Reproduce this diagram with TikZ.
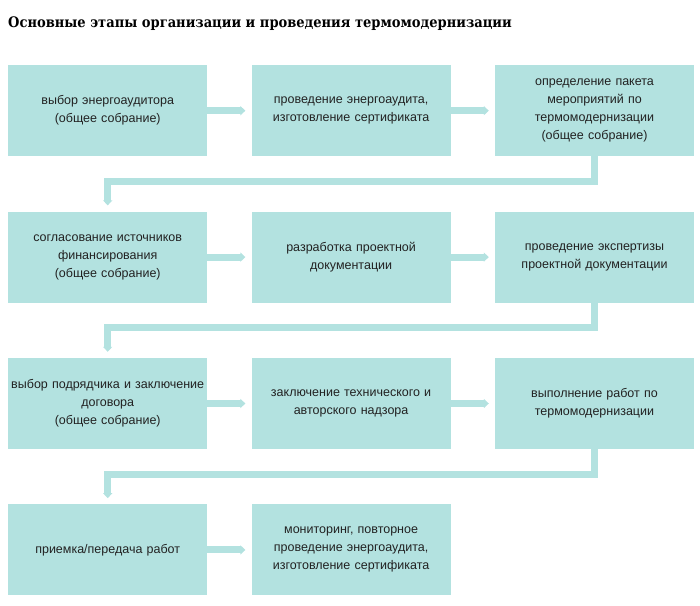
\documentclass[tikz,border=0pt]{standalone}
\usepackage{fontspec}
\setmainfont{Liberation Sans}
\newfontfamily\titlefont{DejaVu Serif Condensed}
\usepackage{tikz}
\usetikzlibrary{positioning,arrows.meta}
\definecolor{stepfill}{RGB}{179,226,224}
\definecolor{steptext}{RGB}{34,34,34}

\begin{document}
\begin{tikzpicture}[x=1pt, y=1pt, node distance=55pt and 44pt]
% Define styles for boxes and arrows
\tikzstyle{stepbox} = [rectangle, fill=stepfill, text=steptext, text width=198pt, align=center, minimum width=199pt, minimum height=91pt, inner sep=0.5pt, font=\fontsize{12.5}{18}\selectfont]
\tikzstyle{line} = [draw=stepfill, line width=7pt, -{Triangle[length=5pt,width=9pt]}]

\useasboundingbox (0,0) rectangle (700,-605);

% Title
\node [anchor=base west, inner sep=0pt, font=\titlefont\bfseries\fontsize{14.5}{16}\selectfont] (title) at (8,-27) {Основные этапы организации и проведения термомодернизации};

% Place nodes
\node [stepbox, anchor=north west] (auditor) at (8,-65) {выбор энергоаудитора\\(общее собрание)};
\node [stepbox, right=of auditor] (audit) {проведение энергоаудита,\\изготовление сертификата};
\node [stepbox, right=of audit] (package) {определение пакета\\мероприятий по\\термомодернизации\\(общее собрание)};
\node [stepbox, below=of auditor] (finance) {согласование источников\\финансирования\\(общее собрание)};
\node [stepbox, right=of finance] (design) {разработка проектной\\документации};
\node [stepbox, right=of design] (expert) {проведение экспертизы\\проектной документации};
\node [stepbox, below=of finance] (contractor) {выбор подрядчика и заключение\\договора\\(общее собрание)};
\node [stepbox, right=of contractor] (supervision) {заключение технического и\\авторского надзора};
\node [stepbox, right=of supervision] (works) {выполнение работ по\\термомодернизации};
\node [stepbox, below=of contractor] (acceptance) {приемка/передача работ};
\node [stepbox, right=of acceptance] (monitoring) {мониторинг, повторное\\проведение энергоаудита,\\изготовление сертификата};

% Connect nodes with arrows
\path [line, shorten >=6pt] (auditor) -- (audit);
\path [line, shorten >=6pt] (audit) -- (package);
\path [line, shorten >=6pt] (finance) -- (design);
\path [line, shorten >=6pt] (design) -- (expert);
\path [line, shorten >=6pt] (contractor) -- (supervision);
\path [line, shorten >=6pt] (supervision) -- (works);
\path [line, shorten >=6pt] (acceptance) -- (monitoring);

% Row changes
\path [line, shorten >=6pt] (package.south) -- ++(0,-25) -| (finance.north);
\path [line, shorten >=6pt] (expert.south) -- ++(0,-25) -| (contractor.north);
\path [line, shorten >=6pt] (works.south) -- ++(0,-25) -| (acceptance.north);

\end{tikzpicture}
\end{document}
